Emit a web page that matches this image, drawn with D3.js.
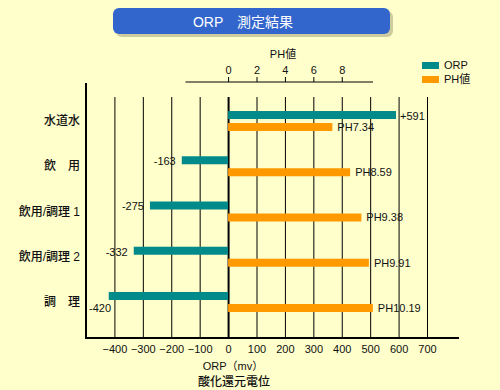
<!DOCTYPE html>
<html lang="ja">
  <head>
    <meta charset="UTF-8" />
    <title>ORP 測定結果</title>
    <script src="https://d3js.org/d3.v7.min.js"></script>
    <style>
      body { margin: 0; background: #ffffcc; }
      svg { display: block; font-family: 'Liberation Sans', 'Noto Sans CJK JP', sans-serif; }
    </style>
  </head>
  <body>
    <script>
      let width = 500
      let height = 390

      // data
      let categories = ['水道水', '飲　用', '飲用/調理 1', '飲用/調理 2', '調　理']
      let orpValues = [591, -163, -275, -332, -420]
      let phValues = [7.34, 8.59, 9.38, 9.91, 10.19]
      let orpTicks = [-400, -300, -200, -100, 0, 100, 200, 300, 400, 500, 600, 700]
      let phTicks = [0, 2, 4, 6, 8]

      let teal = '#008a8a'
      let orange = '#ff9900'

      let plotTop = 97
      let plotBottom = 338

      let svg = d3.select('body').append('svg')
        .attr('width', width)
        .attr('height', height)

      svg.append('rect').attr('width', width).attr('height', height).attr('fill', '#ffffcc')

      // title box with a soft shadow
      svg.append('rect')
        .attr('x', 116).attr('y', 11).attr('width', 277).attr('height', 26).attr('rx', 6)
        .attr('fill', '#9a9a70').attr('opacity', 0.5)
      svg.append('rect')
        .attr('x', 113).attr('y', 8).attr('width', 277).attr('height', 26).attr('rx', 6)
        .attr('fill', '#3366cc')
      svg.append('text')
        .attr('x', 243).attr('y', 22).attr('dy', '0.35em')
        .attr('text-anchor', 'middle').attr('fill', '#fff').style('font-size', '14px')
        .text('ORP　測定結果')

      let x = d3.scaleLinear().domain([-500, 700]).range([86, 427])
      // pH shares the pixel scale: 2 pH units = 100 mV
      let ph = d3.scaleLinear().domain([0, 10]).range([x(0), x(500)])
      let y = d3.scaleBand().domain(categories).range([98.4, 324.6])

      // bottom axis with gridlines
      let xAxis = svg.append('g')
        .attr('transform', `translate(0,${plotBottom})`)
        .call(d3.axisBottom(x).tickValues(orpTicks).tickSize(-(plotBottom - plotTop)).tickPadding(7))
      xAxis.select('.domain').remove()
      xAxis.selectAll('line')
        .attr('stroke', '#000')
        .attr('stroke-width', d => (d === 0 ? 2 : 1))
      xAxis.selectAll('text').style('font-size', '11px').attr('fill', '#111')

      svg.append('line')
        .attr('x1', 85).attr('x2', 459).attr('y1', plotBottom).attr('y2', plotBottom)
        .attr('stroke', '#000').attr('stroke-width', 2)
      svg.append('line')
        .attr('x1', 86).attr('x2', 86).attr('y1', 83).attr('y2', plotBottom)
        .attr('stroke', '#000').attr('stroke-width', 2)

      // top pH axis
      let phAxis = svg.append('g')
        .attr('transform', 'translate(0,82)')
        .call(d3.axisTop(ph).tickValues(phTicks).tickSize(5).tickPadding(3))
      phAxis.select('.domain').remove()
      phAxis.selectAll('line').attr('stroke', '#000')
      phAxis.selectAll('text').style('font-size', '11px').attr('fill', '#111')
      svg.append('line')
        .attr('x1', ph(-3)).attr('x2', ph(10.2)).attr('y1', 82).attr('y2', 82)
        .attr('stroke', '#000')
      svg.append('text')
        .attr('x', 283).attr('y', 54).attr('dy', '0.35em').attr('text-anchor', 'middle')
        .style('font-size', '11px').attr('fill', '#111')
        .text('PH値')

      // axis titles
      svg.append('text')
        .attr('x', 233).attr('y', 366).attr('dy', '0.35em').attr('text-anchor', 'middle')
        .style('font-size', '11px').attr('fill', '#111')
        .text('ORP（mv）')
      svg.append('text')
        .attr('x', 234).attr('y', 382).attr('dy', '0.35em').attr('text-anchor', 'middle')
        .style('font-size', '12px').style('font-weight', 500).attr('fill', '#111')
        .text('酸化還元電位')

      // category labels
      svg.selectAll('text.cat')
        .data(categories)
        .enter()
        .append('text')
        .attr('class', 'cat')
        .attr('x', 80)
        .attr('y', d => y(d) + y.bandwidth() / 2)
        .attr('dy', '0.35em')
        .attr('text-anchor', 'end')
        .style('font-size', '12px').style('font-weight', 500).attr('fill', '#111')
        .text(d => d)

      let rows = categories.map((c, i) => ({ cat: c, orp: orpValues[i], ph: phValues[i] }))
      let mid = d => y(d.cat) + y.bandwidth() / 2

      // ORP bars
      svg.selectAll('rect.orp')
        .data(rows)
        .enter()
        .append('rect')
        .attr('class', 'orp')
        .attr('x', d => x(Math.min(0, d.orp)))
        .attr('width', d => Math.abs(x(d.orp) - x(0)))
        .attr('y', d => mid(d) - 10)
        .attr('height', 8)
        .attr('fill', teal)

      // pH bars
      svg.selectAll('rect.ph')
        .data(rows)
        .enter()
        .append('rect')
        .attr('class', 'ph')
        .attr('x', ph(0))
        .attr('width', d => ph(d.ph) - ph(0))
        .attr('y', d => mid(d) + 2)
        .attr('height', 8)
        .attr('fill', orange)

      // ORP value labels; if the label would hit the left axis it goes under the bar
      svg.selectAll('text.orpLabel')
        .data(rows)
        .enter()
        .append('text')
        .attr('class', 'orpLabel')
        .style('font-size', '11px').attr('fill', '#111')
        .attr('dy', '0.35em')
        .each(function(d) {
          let t = d3.select(this)
          if (d.orp >= 0) {
            t.attr('x', x(d.orp) + 4).attr('y', mid(d) - 5).attr('text-anchor', 'start').text('+' + d.orp)
          } else if (x(d.orp) - 30 < x(-500)) {
            t.attr('x', x(-500) + 3).attr('y', mid(d) + 6).attr('text-anchor', 'start').text(d.orp)
          } else {
            t.attr('x', x(d.orp) - 6).attr('y', mid(d) - 5).attr('text-anchor', 'end').text(d.orp)
          }
        })

      svg.selectAll('text.phLabel')
        .data(rows)
        .enter()
        .append('text')
        .attr('class', 'phLabel')
        .attr('x', d => ph(d.ph) + 5)
        .attr('y', d => mid(d) + 6)
        .attr('dy', '0.35em')
        .style('font-size', '11px').attr('fill', '#111')
        .text(d => 'PH' + d.ph)

      // legend
      let legend = svg.selectAll('g.legend')
        .data([['ORP', teal], ['PH値', orange]])
        .enter()
        .append('g')
        .attr('class', 'legend')
        .attr('transform', (d, i) => `translate(422,${62 + i * 14})`)
      legend.append('rect').attr('width', 17).attr('height', 7).attr('fill', d => d[1])
      legend.append('text')
        .attr('x', 22).attr('y', 3.5).attr('dy', '0.35em')
        .style('font-size', '11px').attr('fill', '#111')
        .text(d => d[0])
    </script>
  </body>
</html>
